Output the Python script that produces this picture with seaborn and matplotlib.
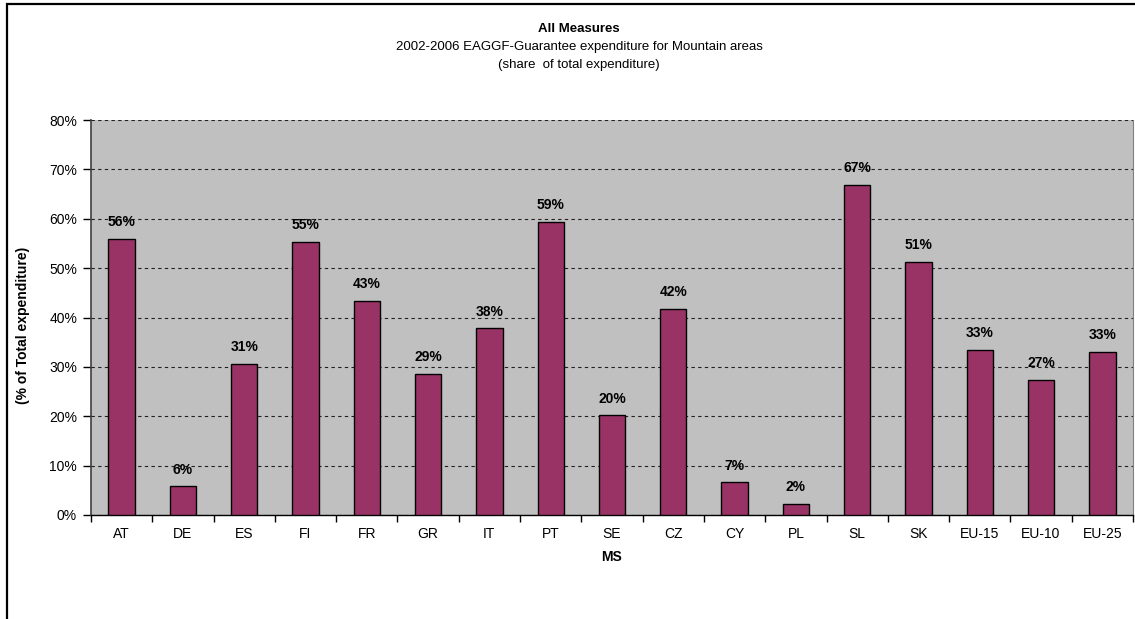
import numpy as np
import pandas as pd
import matplotlib
matplotlib.use("Agg")
import matplotlib.pyplot as plt
from matplotlib.patches import Rectangle
from matplotlib.ticker import PercentFormatter, MultipleLocator
import seaborn as sns

# EAGGF-Guarantee expenditure for mountain areas, share of total (%)
member_states = ["AT", "DE", "ES", "FI", "FR", "GR", "IT", "PT", "SE", "CZ",
                 "CY", "PL", "SL", "SK", "EU-15", "EU-10", "EU-25"]
share_pct = [56.0, 5.8, 30.6, 55.3, 43.4, 28.6, 37.8, 59.4, 20.2, 41.8,
             6.6, 2.3, 66.8, 51.2, 33.4, 27.4, 33.1]

title_lines = ["All Measures",
               "2002-2006 EAGGF-Guarantee expenditure for Mountain areas",
               "(share  of total expenditure)"]

df = pd.DataFrame({"MS": member_states, "share": share_pct})

sns.set_style("ticks")
plt.rcParams["font.family"] = ["Liberation Sans", "DejaVu Sans"]
plt.rcParams.update({"text.color": "black", "axes.labelcolor": "black",
                     "xtick.color": "black", "ytick.color": "black"})

W, H = 1135, 619
fig = plt.figure(figsize=(W / 100, H / 100), dpi=100)
ax = fig.add_axes([91 / W, 1 - 515 / H, 1042 / W, 395 / H])
ax.set_facecolor("#C0C0C0")

sns.barplot(data=df, x="MS", y="share", color="#993366", saturation=1,
            width=0.43, edgecolor="black", linewidth=1.0, ax=ax, zorder=3)

ax.bar_label(ax.containers[0], labels=[f"{v:.0f}%" for v in share_pct],
             padding=7, fontsize=10, fontweight="bold", color="black")

ax.set_ylim(0, 80)
ax.set_xlim(-0.5, len(member_states) - 0.5)
ax.yaxis.set_major_locator(MultipleLocator(10))
ax.yaxis.set_major_formatter(PercentFormatter(100, decimals=0))

# dashed horizontal gridlines
ax.yaxis.grid(True, color="#202020", linestyle=(0, (3, 3)), linewidth=0.8, zorder=1)
ax.xaxis.grid(False)
ax.set_axisbelow(True)

# category ticks sit between bars
ax.set_xticks(np.arange(-0.5, len(member_states), 1), minor=True)
ax.tick_params(axis="x", which="major", length=0, pad=9, labelsize=10,
               labelcolor="black")
ax.tick_params(axis="x", which="minor", length=5, width=1, color="black", direction="out")
ax.tick_params(axis="y", which="major", length=6, width=1, pad=4, labelsize=10,
               color="black", labelcolor="black", direction="out")

ax.spines["top"].set_visible(False)
ax.spines["right"].set_color("#808080")
ax.spines["right"].set_linewidth(0.8)
ax.spines["left"].set_color("#404040")
ax.spines["left"].set_linewidth(1.2)
ax.spines["bottom"].set_color("black")
ax.spines["bottom"].set_linewidth(1.0)

ax.set_xlabel("MS", fontsize=10, fontweight="bold", color="black")
ax.set_ylabel("(% of Total expenditure)", fontsize=10, fontweight="bold", color="black")
ax.xaxis.set_label_coords(0.5, -0.088)
ax.yaxis.set_label_coords(-0.0585, 0.48)

# three-line centred heading
tx = 579 / W
fig.text(tx, 1 - 29 / H, title_lines[0], ha="center", va="center",
         fontsize=9.5, fontweight="bold", color="black")
fig.text(tx, 1 - 47 / H, title_lines[1], ha="center", va="center",
         fontsize=9.5, color="black")
fig.text(tx, 1 - 65 / H, title_lines[2], ha="center", va="center",
         fontsize=9.5, color="black")

# chart-area frame
fig.add_artist(Rectangle((7 / W, -0.2), 1.5, 1.2 - 4 / H, transform=fig.transFigure,
                         fill=False, edgecolor="black", linewidth=1.6))

fig.savefig("out.png", dpi=100)
